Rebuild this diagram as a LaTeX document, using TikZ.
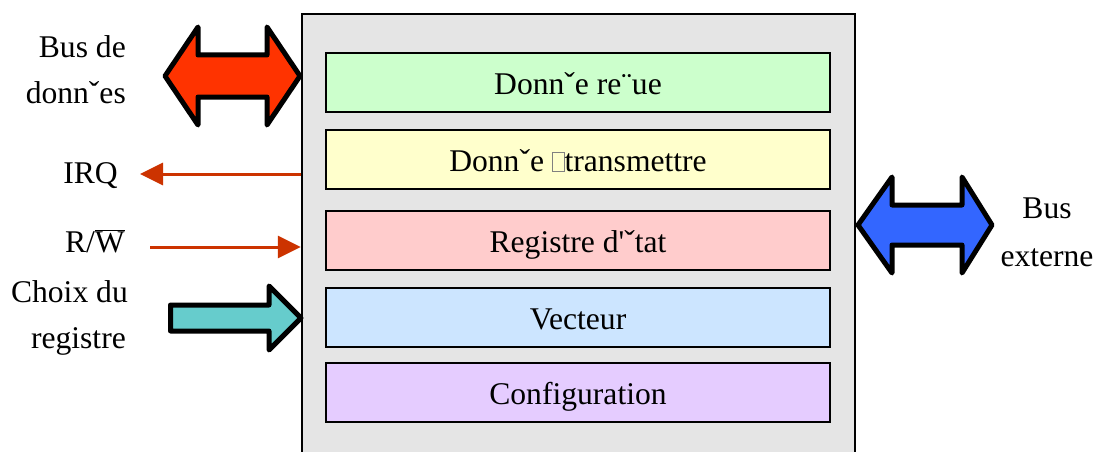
\documentclass[tikz,border=0pt]{standalone}
\usepackage{fontspec}
\setmainfont{Liberation Serif}
\usetikzlibrary{arrows.meta}
\definecolor{chipgray}{HTML}{E5E5E5}
\definecolor{cgreen}{HTML}{CCFFCC}
\definecolor{cyellow}{HTML}{FFFFCC}
\definecolor{cpink}{HTML}{FFCCCC}
\definecolor{cblue}{HTML}{CCE5FF}
\definecolor{cpurple}{HTML}{E5CCFF}
\definecolor{fatred}{HTML}{FF3300}
\definecolor{fatblue}{HTML}{3366FF}
\definecolor{fatcyan}{HTML}{66CCCC}
\definecolor{sigred}{HTML}{CC3300}
\newcommand{\missingglyph}{{\color{gray}\setlength\fboxsep{0pt}\setlength\fboxrule{0.8pt}\fbox{\rule{0pt}{18pt}\hspace{11pt}}}}
\begin{document}
\begin{tikzpicture}[x=1pt,y=-1pt,
  font=\fontsize{31.6}{45}\selectfont,
  chip/.style={draw=black,line width=2.5pt,fill=chipgray,minimum width=553pt,minimum height=450pt,inner sep=0pt},
  reg/.style={draw=black,line width=2.2pt,minimum width=504pt,minimum height=59pt,inner sep=0pt,text height=23pt,text depth=0pt},
  lbl/.style={inner sep=0pt,anchor=base east},
  lblc/.style={inner sep=0pt,anchor=base},
  fat/.style={draw=black,line width=5pt,line join=round},
  sig/.style={draw=sigred,line width=3pt,-{Triangle[length=23pt,width=22pt]}}]
\useasboundingbox (0,0) rectangle (1097,452);
\clip (0,0) rectangle (1097,452);
\fill[white] (0,0) rectangle (1097,452);
% chip
\node[chip] (chip) at (578.5,239) {};
\node[reg,fill=cgreen]   (r1) at (578,82.5)  {Donnˇe re¨ue};
\node[reg,fill=cyellow]  (r2) at (578,159.5) {Donnˇe \missingglyph transmettre};
\node[reg,fill=cpink]    (r3) at (578,240.5) {Registre d\textquotesingle ˇtat};
\node[reg,fill=cblue]    (r4) at (578,317.5) {Vecteur};
\node[reg,fill=cpurple]  (r5) at (578,392.5) {Configuration};
% labels
\node[lbl] (busd1) at (126,58)  {Bus de};
\node[lbl] (busd2) at (126,103) {donnˇes};
\node[lbl] (irq)   at (118,183) {IRQ};
\node[lbl] (rw)    at (125,252) {R/$\overline{\hbox{W}}$};
\node[lbl] (choix1) at (128,302) {Choix du};
\node[lbl] (choix2) at (126,348) {registre};
\node[lblc] (busx1) at (1047,218) {Bus};
\node[lblc] (busx2) at (1047,266) {externe};
% fat arrows
\draw[fat,fill=fatred] (165,76) -- (198,27) -- (198,55) -- (267,55) -- (267,27) -- (300,76)
  -- (267,125) -- (267,97) -- (198,97) -- (198,125) -- cycle;
\draw[fat,fill=fatblue] (858,225) -- (892,177) -- (892,205) -- (962,205) -- (962,177) -- (992,225)
  -- (962,273) -- (962,245) -- (892,245) -- (892,273) -- cycle;
\draw[fat,fill=fatcyan] (170.5,305) -- (269,305) -- (269,286) -- (301,318) -- (269,350)
  -- (269,331) -- (170.5,331) -- cycle;
% thin signal arrows
\coordinate (irqtip) at (140,174);
\coordinate (rwtail) at (150,247);
\draw[sig] (chip.west |- irqtip) -- (irqtip);
\draw[sig] (rwtail) -- (chip.west |- rwtail);
\end{tikzpicture}
\end{document}
